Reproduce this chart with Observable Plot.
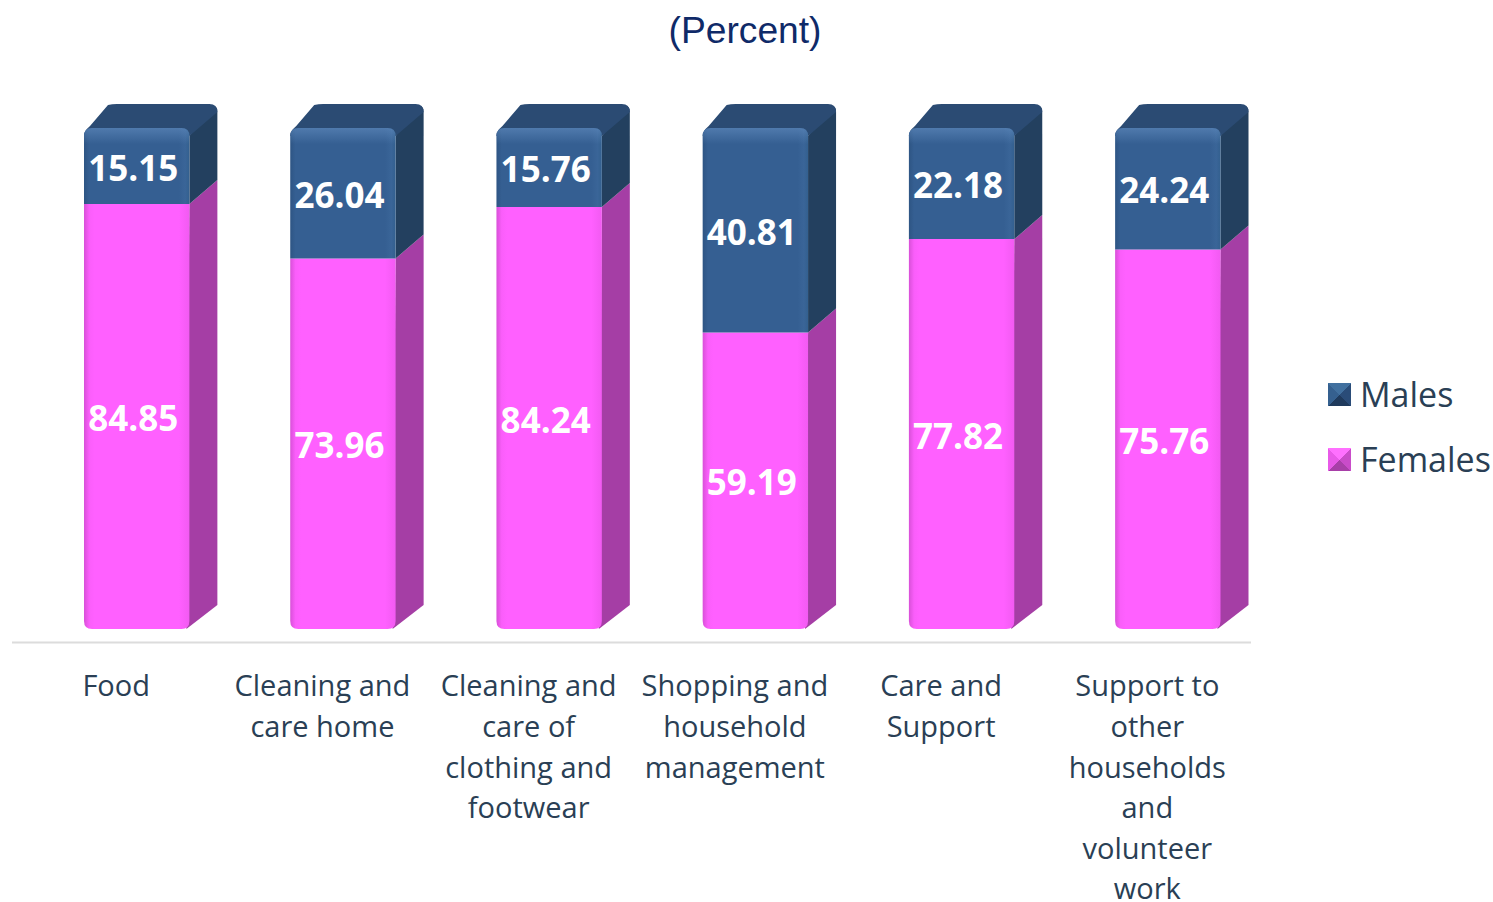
<!DOCTYPE html>
<html>
<head>
<meta charset="utf-8">
<script src="https://cdn.jsdelivr.net/npm/d3@7"></script>
<script src="https://cdn.jsdelivr.net/npm/@observablehq/plot@0.6"></script>
<style>
html,body{margin:0;padding:0;background:#fff;width:1493px;height:902px;overflow:hidden;position:relative}
#title{height:60px;text-align:center;font:37.2px/60.5px "Liberation Sans",Arial,sans-serif;color:#0f2a68;width:1490px}
#legend{position:absolute;left:1328px;top:374px;font-family:"Open Sans",sans-serif;font-size:34px;color:#2a3f55}
.item{position:absolute;left:0;white-space:nowrap;height:40px;line-height:40px}
.item i{position:absolute;left:0;top:9px;width:23px;height:23px}
.item span{position:absolute;left:32px;top:0}
svg{display:block}
</style>
</head>
<body>
<div id="title">(Percent)</div>
<div id="chart"></div>
<div id="legend"></div>
<script>
const categories = ["Food","Cleaning and\ncare home","Cleaning and\ncare of\nclothing and\nfootwear","Shopping and\nhousehold\nmanagement","Care and\nSupport","Support to\nother\nhouseholds\nand\nvolunteer\nwork"];
const females = [84.85,73.96,84.24,59.19,77.82,75.76];
const males = [15.15,26.04,15.76,40.81,22.18,24.24];
const seriesNames = ["Females","Males"];
const seriesValues = [females,males];

const long = seriesNames.flatMap((s,k)=>categories.map((c,i)=>({category:c,series:s,value:seriesValues[k][i]})));

const look = {
  Females:{front:"url(#fp)",side:"#A53EA5",top:"",swatch:"conic-gradient(from -45deg,#ff70ff 0 25%,#c94cc9 25% 50%,#a83fa8 50% 75%,#e85ae8 75% 100%)"},
  Males:{front:"url(#fb)",side:"#23405F",top:"#2B4B73",swatch:"conic-gradient(from -45deg,#41709f 0 25%,#2a4c78 25% 50%,#1f3a5c 50% 75%,#35608f 75% 100%)"}
};
const depthX = 28, depthY = 24, corner = 8;

function defs(){
  const d = d3.create("svg:defs");
  const grad = (id,stops,v)=>{
    const g = d.append("linearGradient").attr("id",id);
    if(v) g.attr("x1",0).attr("x2",0).attr("y1",0).attr("y2",1);
    stops.forEach(([o,c,a])=>g.append("stop").attr("offset",o).attr("stop-color",c).attr("stop-opacity",a==null?1:a));
  };
  grad("fp",[[0,"#D850D8"],[.05,"#FA5EFA"],[.1,"#FF60FF"],[.9,"#FF60FF"],[1,"#F25AF2"]]);
  grad("fb",[[0,"#2E5584"],[.05,"#355F92"],[.9,"#355F92"],[.96,"#3A6598"],[1,"#33608F"]]);
  grad("hl",[[0,"#6A95C8",.5],[1,"#6A95C8",0]],true);
  return d.node();
}

function solid(index,scales,values,dim,ctx,next){
  const g = next(index,scales,values,dim,ctx);
  d3.select(g).selectAll("rect").each(function(_,i){
    const r = d3.select(this), d = long[index[i]], l = look[d.series];
    const x = +r.attr("x"), y = +r.attr("y"), w = +r.attr("width"), h = +r.attr("height");
    const p = d3.select(this.parentNode);
    const isTop = d.series === "Males";
    const side = isTop
      ? `M${x+w},${y+corner}L${x+w+depthX-4},${y-depthY+2}Q${x+w+depthX},${y-depthY+2} ${x+w+depthX},${y-depthY+corner}L${x+w+depthX},${y+h-depthY}L${x+w},${y+h}Z`
      : `M${x+w},${y}L${x+w+depthX},${y-depthY}L${x+w+depthX},${y+h-depthY}L${x+w-3},${y+h}Z`;
    p.append("path").attr("d",side).attr("fill",l.side);
    if(isTop){
      p.append("path").attr("d",`M${x},${y+corner}Q${x},${y+3} ${x+6},${y-2}L${x+depthX-4},${y-depthY+1}Q${x+depthX},${y-depthY} ${x+depthX+5},${y-depthY}L${x+w+depthX-8},${y-depthY}Q${x+w+depthX},${y-depthY} ${x+w+depthX},${y-depthY+8}L${x+w},${y+corner}Z`).attr("fill",l.top);
    }
    const front = isTop
      ? `M${x},${y+h}V${y+corner}Q${x},${y} ${x+corner},${y}H${x+w-corner}Q${x+w},${y} ${x+w},${y+corner}V${y+h}Z`
      : `M${x},${y}H${x+w}V${y+h-corner}Q${x+w},${y+h} ${x+w-corner},${y+h}H${x+corner}Q${x},${y+h} ${x},${y+h-corner}Z`;
    p.append("path").attr("d",front).attr("fill",l.front);
    if(isTop){
      p.append("path").attr("d",`M${x},${y+16}V${y+corner}Q${x},${y} ${x+corner},${y}H${x+w-corner}Q${x+w},${y} ${x+w},${y+corner}V${y+16}Z`).attr("fill","url(#hl)");
    }
    r.remove();
  });
  return g;
}

const chart = Plot.plot({
  width:1493,height:842,
  marginLeft:12,marginRight:242,marginTop:0,marginBottom:260,
  x:{type:"band",domain:categories,range:[84,1220.5],paddingInner:0.489,paddingOuter:0,round:false},
  y:{domain:[0,100],range:[569,68],axis:null},
  marks:[
    defs,
    Plot.axisX({anchor:"bottom",tickSize:0,tickPadding:25,dx:-21,label:null,fontSize:29,lineHeight:1.4,lineAnchor:"top",fontFamily:"Open Sans, sans-serif",color:"#2a3f55"}),
    Plot.ruleY([-2.6],{stroke:"#dcdcdc",strokeWidth:2}),
    Plot.barY(long,{x:"category",y:"value",fill:"#888",render:solid}),
    Plot.text(long,Plot.stackY({x:"category",y:"value",text:d=>d3.format(".2f")(d.value),fill:"#fff",fontSize:35,fontWeight:"bold",fontFamily:"Open Sans, sans-serif",dx:-4,dy:3}))
  ]
});
document.getElementById("chart").append(chart);

const legend = d3.select("#legend");
[["Males",0],["Females",65]].forEach(([s,t])=>{
  const it = legend.append("div").attr("class","item").style("top",t+"px");
  it.append("i").style("background",look[s].swatch);
  it.append("span").text(s);
});
</script>
</body>
</html>
